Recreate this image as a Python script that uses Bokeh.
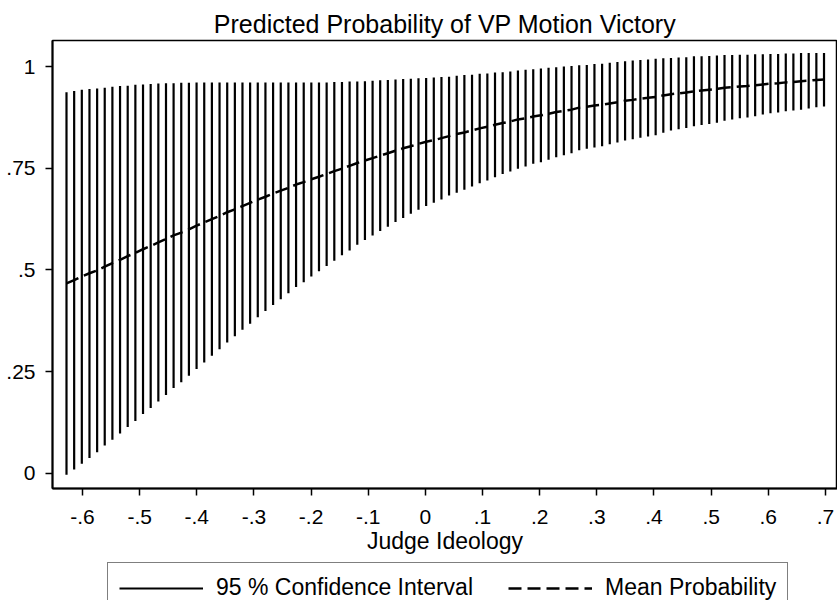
from bokeh.plotting import figure
from bokeh.models import Range1d, FixedTicker, Legend, LegendItem
from bokeh.layouts import column
from bokeh.embed import file_html
from bokeh.resources import INLINE

# Judge ideology values (x) at which predictions were made
ideology = [-0.6280, -0.6146, -0.6012, -0.5878, -0.5744, -0.5611, -0.5477, -0.5343, -0.5209, -0.5075,
            -0.4941, -0.4807, -0.4673, -0.4539, -0.4406, -0.4272, -0.4138, -0.4004, -0.3870, -0.3736,
            -0.3602, -0.3468, -0.3334, -0.3201, -0.3067, -0.2933, -0.2799, -0.2665, -0.2531, -0.2397,
            -0.2263, -0.2129, -0.1996, -0.1862, -0.1728, -0.1594, -0.1460, -0.1326, -0.1192, -0.1058,
            -0.0924, -0.0791, -0.0657, -0.0523, -0.0389, -0.0255, -0.0121, 0.0013, 0.0147, 0.0281,
            0.0414, 0.0548, 0.0682, 0.0816, 0.0950, 0.1084, 0.1218, 0.1352, 0.1486, 0.1619,
            0.1753, 0.1887, 0.2021, 0.2155, 0.2289, 0.2423, 0.2557, 0.2691, 0.2824, 0.2958,
            0.3092, 0.3226, 0.3360, 0.3494, 0.3628, 0.3762, 0.3896, 0.4029, 0.4163, 0.4297,
            0.4431, 0.4565, 0.4699, 0.4833, 0.4967, 0.5101, 0.5234, 0.5368, 0.5502, 0.5636,
            0.5770, 0.5904, 0.6038, 0.6172, 0.6306, 0.6439, 0.6573, 0.6707, 0.6841, 0.6975]

# Lower bound of the 95% confidence interval
ci_lower = [-0.003, 0.010, 0.024, 0.038, 0.052, 0.069, 0.083, 0.098, 0.114, 0.129,
            0.146, 0.161, 0.177, 0.193, 0.210, 0.224, 0.240, 0.257, 0.273, 0.289,
            0.305, 0.322, 0.337, 0.353, 0.368, 0.384, 0.399, 0.414, 0.428, 0.443,
            0.458, 0.470, 0.484, 0.497, 0.510, 0.523, 0.536, 0.548, 0.562, 0.574,
            0.585, 0.596, 0.606, 0.618, 0.628, 0.638, 0.648, 0.657, 0.665, 0.673,
            0.683, 0.690, 0.697, 0.705, 0.713, 0.720, 0.728, 0.736, 0.742, 0.749,
            0.754, 0.761, 0.765, 0.771, 0.777, 0.782, 0.787, 0.794, 0.798, 0.801,
            0.804, 0.809, 0.813, 0.818, 0.821, 0.825, 0.828, 0.831, 0.837, 0.843,
            0.846, 0.849, 0.853, 0.856, 0.859, 0.862, 0.867, 0.870, 0.873, 0.875,
            0.878, 0.882, 0.885, 0.887, 0.890, 0.892, 0.894, 0.897, 0.900, 0.902]

# Upper bound of the 95% confidence interval
ci_upper = [0.937, 0.940, 0.943, 0.945, 0.946, 0.948, 0.950, 0.952, 0.953, 0.955,
            0.956, 0.957, 0.958, 0.959, 0.959, 0.960, 0.960, 0.961, 0.961, 0.961,
            0.961, 0.961, 0.961, 0.961, 0.961, 0.961, 0.961, 0.961, 0.961, 0.961,
            0.961, 0.961, 0.961, 0.961, 0.961, 0.962, 0.962, 0.963, 0.963, 0.964,
            0.965, 0.966, 0.967, 0.968, 0.969, 0.970, 0.971, 0.972, 0.973, 0.974,
            0.975, 0.977, 0.979, 0.980, 0.982, 0.983, 0.985, 0.986, 0.988, 0.990,
            0.992, 0.993, 0.995, 0.997, 0.998, 1.000, 1.001, 1.003, 1.004, 1.006,
            1.007, 1.009, 1.011, 1.013, 1.015, 1.016, 1.017, 1.019, 1.020, 1.021,
            1.022, 1.023, 1.025, 1.025, 1.026, 1.027, 1.028, 1.028, 1.029, 1.029,
            1.030, 1.030, 1.031, 1.031, 1.032, 1.032, 1.033, 1.033, 1.033, 1.033]

# Mean predicted probability
mean_prob = [0.467, 0.475, 0.484, 0.492, 0.499, 0.508, 0.517, 0.525, 0.534, 0.542,
             0.551, 0.559, 0.568, 0.576, 0.585, 0.592, 0.600, 0.609, 0.617, 0.625,
             0.633, 0.642, 0.649, 0.657, 0.665, 0.673, 0.680, 0.688, 0.695, 0.702,
             0.710, 0.716, 0.723, 0.729, 0.736, 0.743, 0.749, 0.756, 0.763, 0.769,
             0.775, 0.781, 0.787, 0.793, 0.799, 0.804, 0.810, 0.815, 0.819, 0.824,
             0.829, 0.834, 0.838, 0.843, 0.848, 0.852, 0.857, 0.861, 0.865, 0.870,
             0.873, 0.877, 0.880, 0.884, 0.888, 0.891, 0.894, 0.899, 0.901, 0.904,
             0.906, 0.909, 0.912, 0.916, 0.918, 0.921, 0.923, 0.925, 0.929, 0.932,
             0.934, 0.936, 0.939, 0.941, 0.943, 0.945, 0.948, 0.949, 0.951, 0.952,
             0.954, 0.956, 0.958, 0.959, 0.961, 0.962, 0.964, 0.965, 0.967, 0.968]

x_ticks = [-0.6, -0.5, -0.4, -0.3, -0.2, -0.1, 0, 0.1, 0.2, 0.3, 0.4, 0.5, 0.6, 0.7]
x_tick_labels = ["-.6", "-.5", "-.4", "-.3", "-.2", "-.1", "0", ".1", ".2", ".3", ".4", ".5", ".6", ".7"]
y_ticks = [0, 0.25, 0.5, 0.75, 1]
y_tick_labels = ["0", ".25", ".5", ".75", "1"]
legend_labels = ["95 % Confidence Interval", "Mean Probability"]

FONT = "Liberation Sans"
TOP_H = 562

p = figure(width=837, height=TOP_H, output_backend="svg", toolbar_location=None,
           x_range=Range1d(-0.6525, 0.7211), y_range=Range1d(-0.0369, 1.0639),
           min_border_left=52, min_border_right=0, min_border_top=40,
           min_border_bottom=TOP_H - 488,
           title="Predicted Probability of VP Motion Victory")

p.title.align = "center"
p.title.text_font = FONT
p.title.text_font_size = "25px"
p.title.text_font_style = "normal"
p.title.text_color = "black"
p.title.standoff = 6

p.grid.visible = False
p.background_fill_color = "white"
p.border_fill_color = "white"
p.outline_line_color = "black"
p.outline_line_width = 1.5

seg_style = dict(line_color="black", line_width=2.2)
line_style = dict(line_color="black", line_width=2.5, line_dash="13 6")

p.segment(x0=ideology, y0=ci_lower, x1=ideology, y1=ci_upper, **seg_style)
p.line(ideology, mean_prob, **line_style)

for ax in (p.xaxis[0], p.yaxis[0]):
    ax.axis_line_color = "black"
    ax.axis_line_width = 2
    ax.major_tick_line_color = "black"
    ax.major_tick_line_width = 1.5
    ax.major_tick_out = 7
    ax.major_tick_in = 0
    ax.minor_tick_line_color = None
    ax.major_label_text_font = FONT
    ax.major_label_text_font_size = "21px"
    ax.major_label_text_color = "black"
    ax.axis_label_text_font = FONT
    ax.axis_label_text_font_size = "23px"
    ax.axis_label_text_font_style = "normal"
    ax.axis_label_text_color = "black"

p.xaxis.ticker = FixedTicker(ticks=x_ticks)
p.xaxis.major_label_overrides = dict(zip(x_ticks, x_tick_labels))
p.xaxis.major_label_standoff = 14
p.xaxis.axis_label = "Judge Ideology"
p.xaxis.axis_label_standoff = 1

p.yaxis.ticker = FixedTicker(ticks=y_ticks)
p.yaxis.major_label_overrides = dict(zip(y_ticks, y_tick_labels))
p.yaxis.major_label_orientation = "horizontal"
p.yaxis.major_label_standoff = 10

# Legend strip below the chart (its own renderers kept out of view)
leg_fig = figure(width=837, height=600 - TOP_H, output_backend="svg", toolbar_location=None,
                 x_range=Range1d(5, 6), y_range=Range1d(5, 6),
                 x_axis_location=None, y_axis_location=None,
                 min_border_left=52, min_border_right=0, min_border_top=0, min_border_bottom=0)
leg_fig.grid.visible = False
leg_fig.outline_line_color = None
leg_fig.background_fill_color = "white"
leg_fig.border_fill_color = "white"
seg2 = leg_fig.segment(x0=ideology, y0=ci_lower, x1=ideology, y1=ci_upper, **seg_style)
ln2 = leg_fig.line(ideology, mean_prob, **line_style)

legend = Legend(items=[LegendItem(label=legend_labels[0], renderers=[seg2]),
                       LegendItem(label=legend_labels[1], renderers=[ln2])],
                orientation="horizontal", location=(55, -13),
                border_line_color="black", border_line_width=1.5,
                glyph_width=84, glyph_height=20, label_standoff=13, spacing=35,
                padding=11, margin=0,
                label_text_font=FONT, label_text_font_size="23px", label_text_color="black",
                background_fill_color="white", background_fill_alpha=1)
leg_fig.add_layout(legend, "center")

layout = column(p, leg_fig, spacing=0)
open("out.html", "w").write(file_html(layout, INLINE))
